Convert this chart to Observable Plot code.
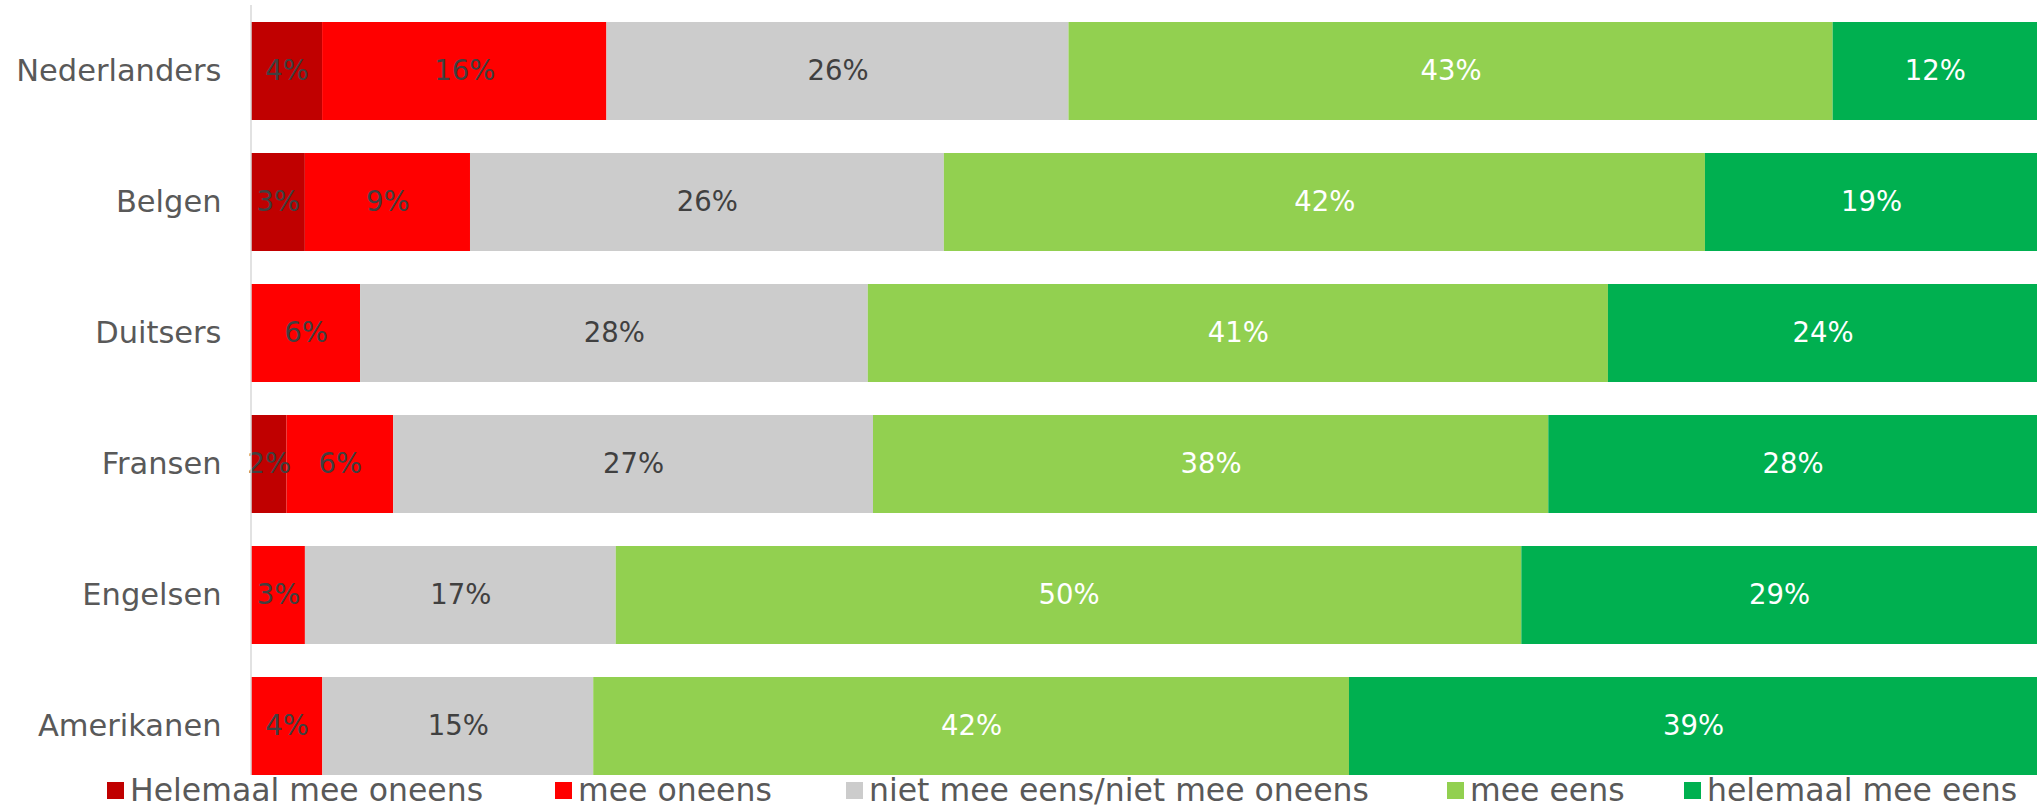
<!DOCTYPE html>
<html>
<head>
<meta charset="utf-8">
<script src="https://cdn.jsdelivr.net/npm/d3@7"></script>
<script src="https://cdn.jsdelivr.net/npm/@observablehq/plot@0.6"></script>
<style>
  html, body { margin: 0; padding: 0; background: #fff; overflow: hidden; }
  #wrap { position: relative; width: 2037px; height: 806px; font-family: "DejaVu Sans", sans-serif; color: #595959; }
  #legend { position: absolute; left: 0; top: 776px; width: 2037px; height: 28px; }
  .item { position: absolute; top: 0; height: 28px; display: flex; align-items: center; font-size: 31.5px; white-space: nowrap; color: #595959; }
  .sw { width: 17px; height: 17px; margin-right: 6px; flex: none; }
</style>
</head>
<body>
<div id="wrap"><div id="chart"></div><div id="legend"></div></div>
<script>
const categories = ["Nederlanders", "Belgen", "Duitsers", "Fransen", "Engelsen", "Amerikanen"];
const series = ["Helemaal mee oneens", "mee oneens", "niet mee eens/niet mee oneens", "mee eens", "helemaal mee eens"];
const colors = ["#C00000", "#FF0000", "#CCCCCC", "#92D050", "#00B050"];
// percentages per category
const helemaalOneens = [4.0, 3.0, 0, 2.0, 0, 0];
const oneens = [16.0, 9.2, 6.1, 6.0, 3.0, 4.0];
const neutraal = [26.0, 26.4, 28.4, 27.0, 17.3, 15.2];
const eens = [43.0, 42.4, 41.4, 38.0, 50.4, 42.4];
const helemaalEens = [11.5, 18.5, 24.0, 27.5, 28.7, 38.6];
const legendX = [107, 555, 846, 1447, 1684];

const seriesValues = [helemaalOneens, oneens, neutraal, eens, helemaalEens];
const data = [];
categories.forEach((c, i) => {
  series.forEach((s, j) => {
    data.push({cat: c, series: s, si: j, value: seriesValues[j][i]});
  });
});
const lbl = d => d.value > 0 ? Math.round(d.value) + "%" : "";

const axisLine = (index, scales, values, dims) => {
  const g = d3.create("svg:line")
    .attr("x1", dims.marginLeft).attr("x2", dims.marginLeft)
    .attr("y1", 5).attr("y2", dims.height)
    .attr("stroke", "#d9d9d9").attr("stroke-width", 1.5);
  return g.node();
};

const chart = Plot.plot({
  width: 2037,
  height: 775,
  marginLeft: 251,
  marginRight: 0,
  marginTop: 22,
  marginBottom: 0,
  style: {fontFamily: "'DejaVu Sans', sans-serif", color: "#595959", background: "#fff"},
  x: {axis: null},
  y: {domain: categories, paddingInner: 0.252, paddingOuter: 0, label: null},
  color: {domain: series, range: colors},
  marks: [
    Plot.barX(data, Plot.stackX({x: "value", y: "cat", fill: "series", offset: "normalize", order: null})),
    Plot.text(data, Plot.stackX({x: "value", y: "cat", offset: "normalize", order: null,
      text: d => d.si < 3 ? lbl(d) : "", fill: "#404040", fontSize: 27.5})),
    Plot.text(data, Plot.stackX({x: "value", y: "cat", offset: "normalize", order: null,
      text: d => d.si >= 3 ? lbl(d) : "", fill: "#ffffff", fontSize: 27.5})),
    axisLine,
    Plot.axisY({tickSize: 0, tickPadding: 30, fontSize: 30.5, label: null, fill: "#595959"})
  ]
});
document.getElementById("chart").appendChild(chart);

const legend = document.getElementById("legend");
series.forEach((s, i) => {
  const it = document.createElement("div");
  it.className = "item";
  it.style.left = legendX[i] + "px";
  const sw = document.createElement("span");
  sw.className = "sw";
  sw.style.background = colors[i];
  const t = document.createElement("span");
  t.textContent = s;
  it.appendChild(sw);
  it.appendChild(t);
  legend.appendChild(it);
});
</script>
</body>
</html>
